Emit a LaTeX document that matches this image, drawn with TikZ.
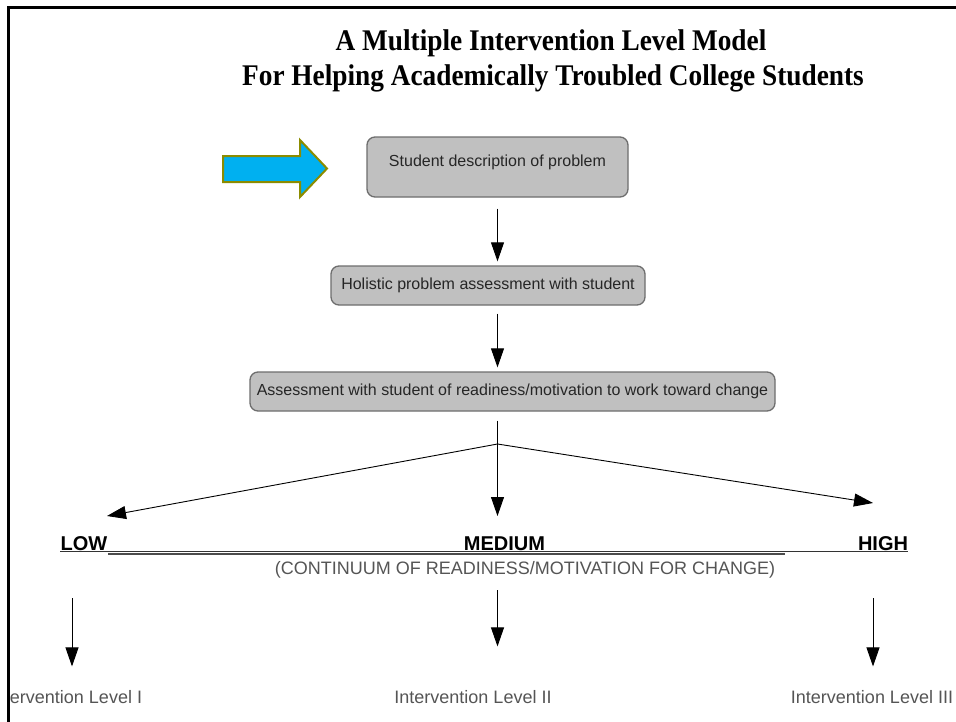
\documentclass[tikz,border=0pt]{standalone}
\usepackage{fontspec}
\usepackage{graphicx}
\setmainfont{Liberation Sans}
\newfontfamily\titlefont{Liberation Serif}
\usetikzlibrary{arrows.meta}
\definecolor{boxfill}{HTML}{C0C0C0}
\definecolor{boxline}{HTML}{6E6E6E}
\definecolor{cyanarrow}{HTML}{00B0F0}
\definecolor{olivearrow}{HTML}{8C8C00}
\definecolor{graytext}{HTML}{555555}
\newcommand{\narrowtitle}[1]{\scalebox{0.91}[1]{#1}}
\begin{document}
\begin{tikzpicture}[x=1pt,y=-1pt,
  stepbox/.style={draw=boxline, line width=1.3pt, fill=boxfill, rounded corners=8pt,
    font=\fontsize{16}{19}\selectfont, text=black!85, inner sep=0pt},
  flow/.style={-{Triangle[width=13pt,length=19pt]}, line width=0.9pt},
  lvl/.style={font=\bfseries\fontsize{20}{24}\selectfont, anchor=base},
  ilabel/.style={font=\fontsize{18}{22}\selectfont, text=graytext, anchor=base},
  ttl/.style={font=\titlefont\bfseries\fontsize{30}{34}\selectfont, anchor=base, inner sep=0pt}]
\useasboundingbox (0,0) rectangle (956,721);
\fill[white] (0,0) rectangle (956,721);

% title
\node[ttl] (t1) at (551,50) {\narrowtitle{A Multiple Intervention Level Model}};
\node[ttl] (t2) at (553,85) {\narrowtitle{For Helping Academically Troubled College Students}};

% blue arrow
\draw[fill=cyanarrow, draw=olivearrow, line width=2pt, line join=miter]
  (223,156) -- (300,156) -- (300,140) -- (327,168.5) -- (300,197) -- (300,182) -- (223,182) -- cycle;

% boxes
\node[stepbox, minimum width=261pt, minimum height=60pt, text height=12pt, text depth=14pt]
  (b1) at (497.5,167) {Student description of problem};
\node[stepbox, minimum width=314pt, minimum height=39pt, text height=11.7pt, text depth=3.4pt]
  (b2) at (488,285.5) {Holistic problem assessment with student};
\node[stepbox, minimum width=525pt, minimum height=39pt, text height=11.7pt, text depth=3.4pt]
  (b3) at (512.5,391.5) {Assessment with student of readiness/motivation to work toward change};

% vertical arrows
\draw[flow, shorten <=11pt, shorten >=4pt] (b1.south) -- (b1.south |- b2.north);
\draw[flow, shorten <=8pt, shorten >=4pt] (b1.south |- b2.south) -- (b1.south |- b3.north);

% fan
\coordinate (apex) at (497.5,444);
\coordinate (lowtip) at (107,516);
\coordinate (medtip) at (497.5,516);
\coordinate (hightip) at (873,503);
\draw[flow, shorten <=9pt] (b1.south |- b3.south) -- (medtip);
\draw[flow] (apex) -- (lowtip);
\draw[flow] (apex) -- (hightip);

% continuum
\node[lvl] (low) at (84,550) {LOW};
\node[lvl] (med) at (504.5,550) {MEDIUM};
\node[lvl] (high) at (883,550) {HIGH};
\draw[line width=1.3pt, black!80] (60,551.5) -- (908,551.5);
\draw[line width=2.5pt, black!70] (108,554) -- (785,554);
\node[ilabel] (cont) at (525,574) {(CONTINUUM OF READINESS/MOTIVATION FOR CHANGE)};

% intervention levels
\begin{scope}
\clip (9.5,0) rectangle (956,721);
\node[ilabel] (il1) at (66,703) {Intervention Level I};
\end{scope}
\node[ilabel] (il2) at (473,703) {Intervention Level II};
\node[ilabel] (il3) at (872,703) {Intervention Level III};
\coordinate (d1) at (72,598);
\coordinate (d2) at (497.5,590);
\coordinate (d3) at (873,598);
\draw[flow, shorten >=20pt] (d1) -- (d1 |- il1.north);
\draw[flow, shorten >=40pt] (d2) -- (d2 |- il2.north);
\draw[flow, shorten >=20pt] (d3) -- (d3 |- il3.north);

% frame
\draw[line width=3pt, line cap=rect] (956,7.5) -- (8,7.5) -- (8,721);
\end{tikzpicture}
\end{document}
